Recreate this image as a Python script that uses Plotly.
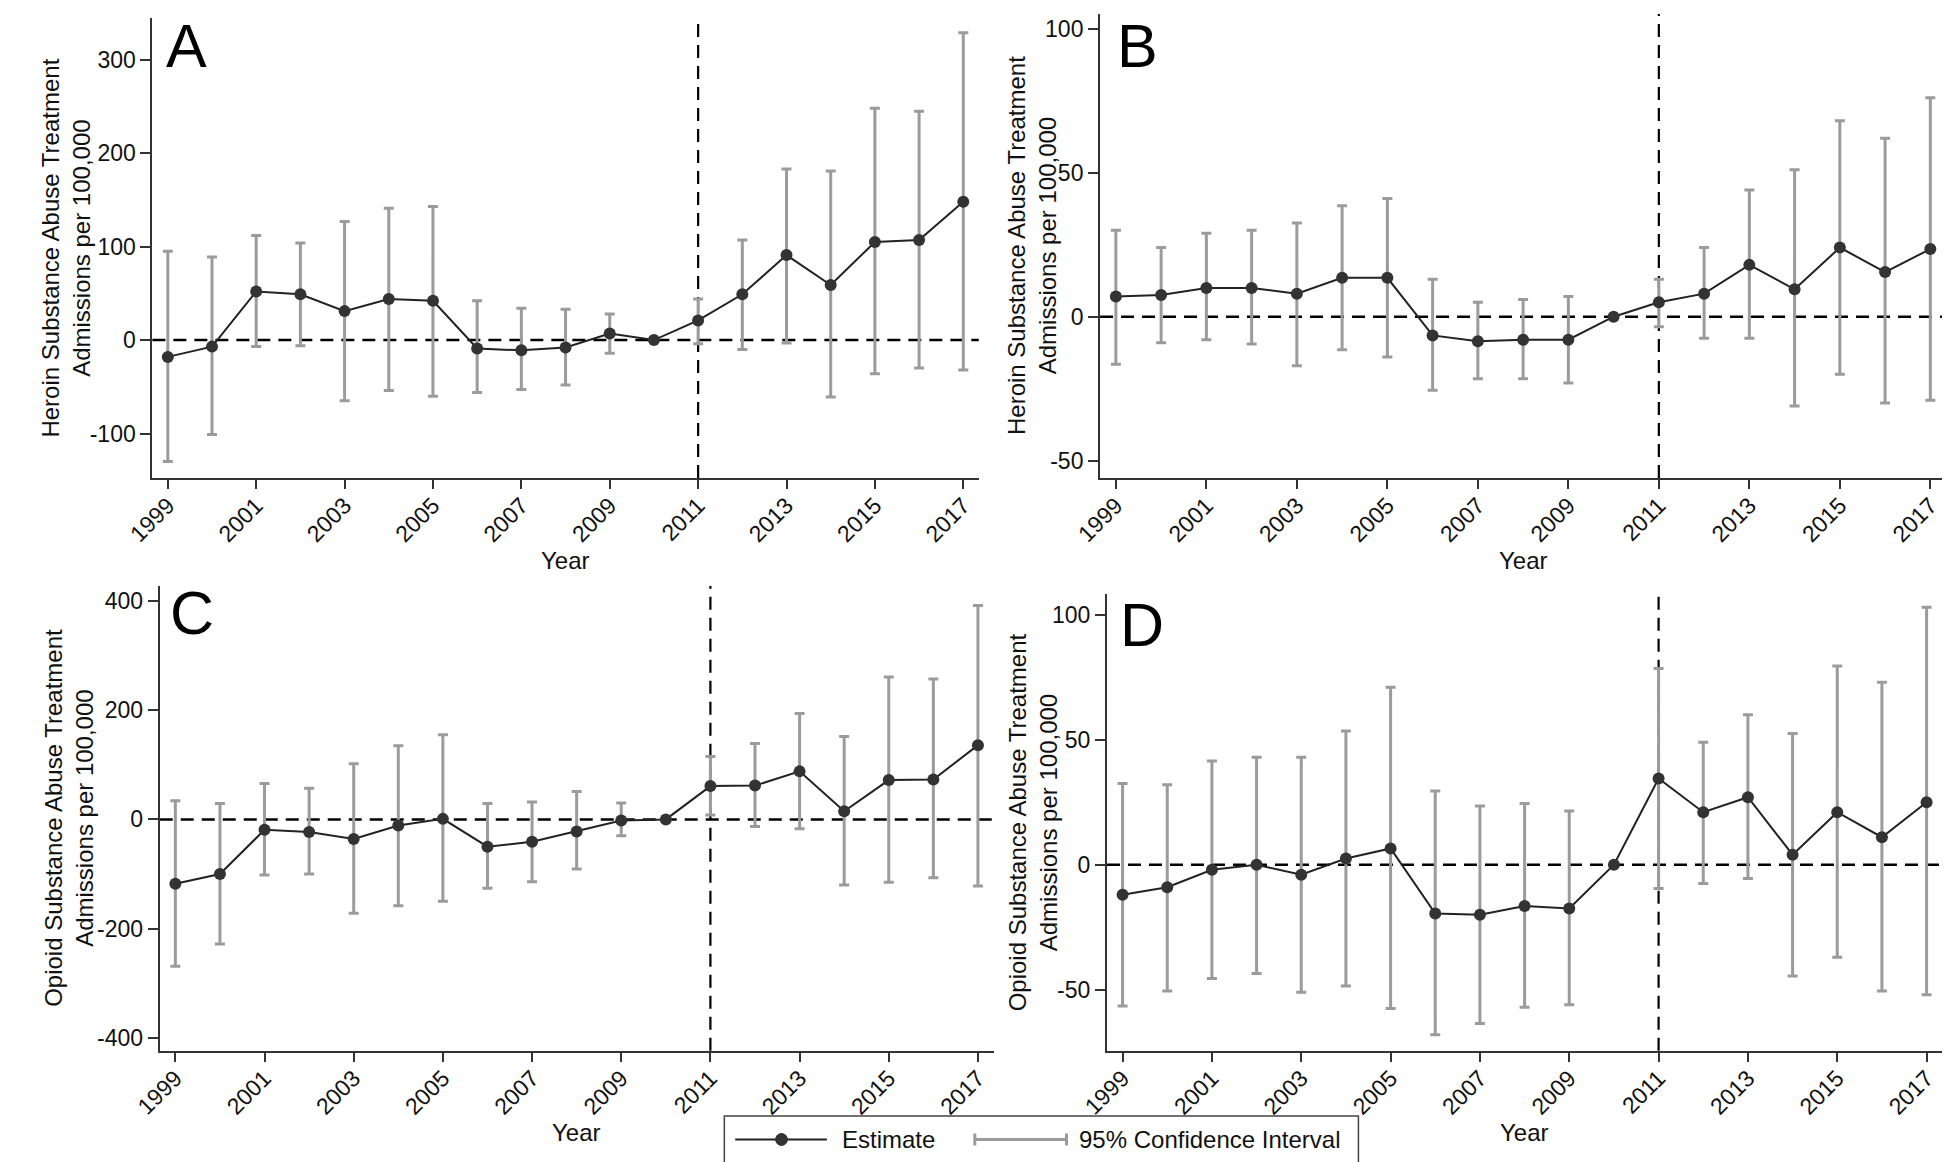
import plotly.graph_objects as go
from plotly.subplots import make_subplots

# ---------------- data ----------------
YEARS = [1999, 2000, 2001, 2002, 2003, 2004, 2005, 2006, 2007, 2008,
         2009, 2010, 2011, 2012, 2013, 2014, 2015, 2016, 2017]
X_TICKS = [1999, 2001, 2003, 2005, 2007, 2009, 2011, 2013, 2015, 2017]
POLICY_YEAR = 2011
ZERO_LINE = 0

# Panel A: heroin admissions
A_EST = [-18, -7, 52, 49, 31, 44, 42, -9, -11, -8, 7, 0, 21, 49, 91, 59, 105, 107, 148]
A_LO = [-130, -101, -7, -6, -65, -54, -60, -56, -53, -48, -14, None, -4, -10, -3, -61, -36, -30, -32]
A_HI = [95, 89, 112, 104, 127, 141, 143, 42, 34, 33, 28, None, 44, 107, 183, 181, 248, 245, 329]
A_YTICKS = [-100, 0, 100, 200, 300]
A_YTEXT = ["-100", "0", "100", "200", "300"]

# Panel B: heroin admissions
B_EST = [7, 7.5, 10, 10, 8, 13.5, 13.5, -6.5, -8.5, -8, -8, 0, 5, 8, 18, 9.5, 24, 15.5, 23.5]
B_LO = [-16.5, -9, -8, -9.5, -17, -11.5, -14, -25.5, -21.5, -21.5, -23, None, -3.5, -7.5, -7.5, -31, -20, -30, -29]
B_HI = [30, 24, 29, 30, 32.5, 38.5, 41, 13, 5, 6, 7, None, 13, 24, 44, 51, 68, 62, 76]
B_YTICKS = [-50, 0, 50, 100]
B_YTEXT = ["-50", "0", "50", "100"]

# Panel C: opioid admissions
C_EST = [-118, -100, -19, -23, -36, -11, 1, -50, -41, -22, -2, 0, 61, 62, 88, 15, 72, 73, 136]
C_LO = [-269, -228, -102, -100, -172, -158, -150, -126, -114, -91, -30, None, 8, -13, -17, -120, -115, -107, -122]
C_HI = [34, 29, 66, 57, 102, 135, 155, 29, 32, 51, 30, None, 115, 139, 194, 152, 261, 257, 392]
C_YTICKS = [-400, -200, 0, 200, 400]
C_YTEXT = ["-400", "-200", "0", "200", "400"]

# Panel D: opioid admissions
D_EST = [-12, -9, -2, 0, -4, 2.5, 6.5, -19.5, -20, -16.5, -17.5, 0, 34.5, 21, 27, 4, 21, 11, 25]
D_LO = [-56.5, -50.5, -45.5, -43.5, -51, -48.5, -57.5, -68, -63.5, -57, -56, None, -9.5, -7.5, -5.5, -44.5, -37, -50.5, -52]
D_HI = [32.5, 32, 41.5, 43, 43, 53.5, 71, 29.5, 23.5, 24.5, 21.5, None, 78.5, 49, 60, 52.5, 79.5, 73, 103]
D_YTICKS = [-50, 0, 50, 100]
D_YTEXT = ["-50", "0", "50", "100"]

HEROIN_TITLE = "Heroin Substance Abuse Treatment<br>Admissions per 100,000"
OPIOID_TITLE = "Opioid Substance Abuse Treatment<br>Admissions per 100,000"
X_TITLE = "Year"
LEGEND_EST = "Estimate"
LEGEND_CI = "95% Confidence Interval"

# ---------------- styling / layout ----------------
W, H = 1950, 1162
FONT = "Liberation Sans, Arial, Helvetica, sans-serif"
CI_COLOR = "#9b9b9b"
LINE_COLOR = "#222222"
MARKER_COLOR = "#333333"
AXIS_COLOR = "#333333"


def px(x):
    return x / W


def py(y):
    return 1 - y / H


panels = [
    dict(letter="A", est=A_EST, lo=A_LO, hi=A_HI, yt=A_YTICKS, ytext=A_YTEXT, title=HEROIN_TITLE,
         row=1, col=1, xdom=(119, 957), ydom=(10, 470), yrange=(-147.6, 344.7),
         title_x=31, letter_xy=(131, 38), year_y=552),
    dict(letter="B", est=B_EST, lo=B_LO, hi=B_HI, yt=B_YTICKS, ytext=B_YTEXT, title=HEROIN_TITLE,
         row=1, col=2, xdom=(1080, 1938), ydom=(6, 470), yrange=(-56.0, 105.1),
         title_x=1011, letter_xy=(1095, 38.5), year_y=552),
    dict(letter="C", est=C_EST, lo=C_LO, hi=C_HI, yt=C_YTICKS, ytext=C_YTEXT, title=OPIOID_TITLE,
         row=2, col=1, xdom=(126.5, 972), ydom=(578, 1042.7), yrange=(-423.6, 427.5),
         title_x=35, letter_xy=(135, 605), year_y=1124),
    dict(letter="D", est=D_EST, lo=D_LO, hi=D_HI, yt=D_YTICKS, ytext=D_YTEXT, title=OPIOID_TITLE,
         row=2, col=2, xdom=(1087, 1934), ydom=(586, 1042.7), yrange=(-74.4, 108.3),
         title_x=1012, letter_xy=(1098, 616.5), year_y=1124),
]

fig = make_subplots(rows=2, cols=2)

annotations = []
for i, p in enumerate(panels):
    r, c = p["row"], p["col"]
    ci_y = [e if h is not None else None for e, h in zip(p["est"], p["hi"])]
    up = [(h - e) if h is not None else 0 for e, h in zip(p["est"], p["hi"])]
    dn = [(e - l) if l is not None else 0 for e, l in zip(p["est"], p["lo"])]
    fig.add_trace(go.Scatter(
        x=YEARS, y=ci_y, mode="markers",
        marker=dict(size=2, color="rgba(0,0,0,0)"),
        error_y=dict(type="data", symmetric=False, array=up, arrayminus=dn,
                     color=CI_COLOR, thickness=3, width=5),
        showlegend=False, hoverinfo="skip"), row=r, col=c)
    fig.add_trace(go.Scatter(
        x=YEARS, y=p["est"], mode="lines+markers",
        line=dict(color=LINE_COLOR, width=2),
        marker=dict(size=12, color=MARKER_COLOR),
        showlegend=False), row=r, col=c)

    fig.add_hline(y=ZERO_LINE, line=dict(color="black", width=2.5, dash="13px,8px"),
                  layer="below", row=r, col=c)
    fig.add_vline(x=POLICY_YEAR, line=dict(color="black", width=2.2, dash="13px,8px"),
                  layer="below", row=r, col=c)

    sfx = "" if i == 0 else str(i + 1)
    x0, x1 = p["xdom"]
    y0, y1 = p["ydom"]
    fig.layout["xaxis" + sfx].update(
        domain=[px(x0), px(x1)], range=[1998.65, 2017.35],
        tickmode="array", tickvals=X_TICKS, ticktext=[str(t) for t in X_TICKS],
        tickangle=-45, ticks="outside", ticklen=9, tickwidth=1.5, tickcolor=AXIS_COLOR,
        ticklabelstandoff=-6,
        showline=True, linecolor=AXIS_COLOR, linewidth=2, showgrid=False, zeroline=False,
        tickfont=dict(family=FONT, size=23, color="#111"))
    fig.layout["yaxis" + sfx].update(
        domain=[py(y1), py(y0)], range=list(p["yrange"]),
        tickmode="array", tickvals=p["yt"], ticktext=p["ytext"],
        ticks="outside", ticklen=10, tickwidth=1.5, tickcolor=AXIS_COLOR,
        showline=True, linecolor=AXIS_COLOR, linewidth=2, showgrid=False, zeroline=False,
        tickfont=dict(family=FONT, size=23, color="#111"))

    # y-axis title
    annotations.append(dict(
        xref="paper", yref="paper", x=px(p["title_x"]), y=py((y0 + y1) / 2),
        text=p["title"], textangle=-90, showarrow=False, xanchor="center", yanchor="middle",
        font=dict(family=FONT, size=24, color="#111")))
    # x-axis title
    annotations.append(dict(
        xref="paper", yref="paper", x=px((x0 + x1) / 2), y=py(p["year_y"]),
        text=X_TITLE, showarrow=False, xanchor="center", yanchor="middle",
        font=dict(family=FONT, size=24, color="#111")))
    # panel letter
    lx, ly = p["letter_xy"]
    annotations.append(dict(
        xref="paper", yref="paper", x=px(lx), y=py(ly),
        text=p["letter"], showarrow=False, xanchor="left", yanchor="middle",
        font=dict(family=FONT, size=61, color="black")))

# ---------------- custom legend ----------------
LB = dict(x0=699, x1=1342, y0=1108, y1=1155)
ly = (LB["y0"] + LB["y1"]) / 2
shapes = [
    dict(type="rect", xref="paper", yref="paper", x0=px(LB["x0"]), x1=px(LB["x1"]),
         y0=py(LB["y1"]), y1=py(LB["y0"]), line=dict(color="#444", width=1.5), fillcolor="white"),
    dict(type="line", xref="paper", yref="paper", x0=px(710), x1=px(803), y0=py(ly), y1=py(ly),
         line=dict(color=LINE_COLOR, width=2)),
    dict(type="circle", xref="paper", yref="paper", x0=px(757 - 6), x1=px(757 + 6),
         y0=py(ly + 6), y1=py(ly - 6), line=dict(color=MARKER_COLOR, width=1), fillcolor=MARKER_COLOR),
    dict(type="line", xref="paper", yref="paper", x0=px(953), x1=px(1046), y0=py(ly), y1=py(ly),
         line=dict(color=CI_COLOR, width=3)),
    dict(type="line", xref="paper", yref="paper", x0=px(953), x1=px(953), y0=py(ly - 6), y1=py(ly + 6),
         line=dict(color=CI_COLOR, width=3)),
    dict(type="line", xref="paper", yref="paper", x0=px(1046), x1=px(1046), y0=py(ly - 6), y1=py(ly + 6),
         line=dict(color=CI_COLOR, width=3)),
]
annotations.append(dict(xref="paper", yref="paper", x=px(816), y=py(ly), text=LEGEND_EST,
                        showarrow=False, xanchor="left", yanchor="middle",
                        font=dict(family=FONT, size=24, color="#111")))
annotations.append(dict(xref="paper", yref="paper", x=px(1057), y=py(ly), text=LEGEND_CI,
                        showarrow=False, xanchor="left", yanchor="middle",
                        font=dict(family=FONT, size=24, color="#111")))

for s in shapes:
    fig.add_shape(s)

fig.update_layout(
    width=W, height=H,
    margin=dict(l=0, r=0, t=0, b=0),
    paper_bgcolor="white", plot_bgcolor="white",
    showlegend=False,
    font=dict(family=FONT, color="#111"),
)
fig.layout.annotations = list(fig.layout.annotations) + annotations

fig.write_html("out.html")
